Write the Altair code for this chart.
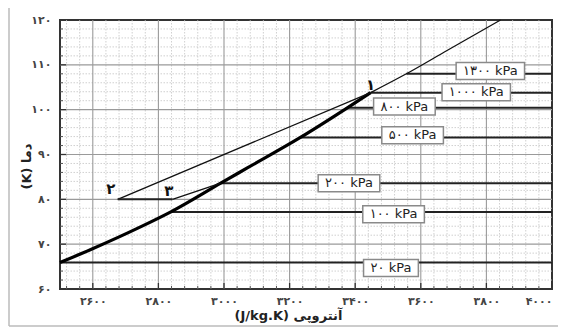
import altair as alt
import pandas as pd

# ---------------- data ----------------
# saturation-like thick curve (entropy J/kg.K, temperature K)
curve_s = [2500, 2594, 2747, 2838, 2990, 3071, 3233, 3376, 3447]
curve_T = [65.9, 68.8, 73.9, 77.2, 83.6, 87.0, 93.8, 100.4, 103.8]
# thin continuation beyond point 1
ext_s = [3447, 3556, 3680, 3843]
ext_T = [103.8, 108.0, 113.2, 120.0]
# process lines
l21_s = [2676, 3447]
l21_T = [80.0, 103.8]
l23_s = [2676, 2843]
l23_T = [80.0, 80.0]
l3c_s = [2843, 2990]
l3c_T = [80.0, 83.6]

# isobars
p_labels = ["۲۰ kPa", "۱۰۰ kPa", "۲۰۰ kPa", "۵۰۰ kPa", "۸۰۰ kPa", "۱۰۰۰ kPa", "۱۳۰۰ kPa"]
p_T = [65.9, 77.2, 83.6, 93.8, 100.4, 103.8, 108.0]
p_start = [2500, 2838, 2990, 3233, 3376, 3447, 3556]
p_end = [4000, 4000, 4000, 4000, 4000, 4000, 4000]
# label box centres
p_lab_s = [3509, 3517, 3381, 3575, 3550, 3769, 3812]
p_lab_T = [64.7, 76.7, 83.6, 94.3, 100.7, 103.9, 108.6]

# state point labels
pt_labels = ["۱", "۲", "۳"]
pt_s = [3447, 2655, 2832]
pt_T = [105.6, 82.3, 81.9]

# axes
x_ticks = [2600, 2800, 3000, 3200, 3400, 3600, 3800, 4000]
x_tick_labels = ["۲۶۰۰", "۲۸۰۰", "۳۰۰۰", "۳۲۰۰", "۳۴۰۰", "۳۶۰۰", "۳۸۰۰", "۴۰۰۰"]
y_ticks = [60, 70, 80, 90, 100, 110, 120]
y_tick_labels = ["۶۰", "۷۰", "۸۰", "۹۰", "۱۰۰", "۱۱۰", "۱۲۰"]

S_MIN, S_MAX = 2500, 4000
T_MIN, T_MAX = 60, 120
W, H = 492, 269

major_x = list(range(2600, 4000, 200))
minor_x = [v for v in range(2520, 4000, 40) if v % 200 != 0]
major_y = list(range(70, 120, 10))
minor_y = [v for v in range(62, 120, 2) if v % 10 != 0]


def label_expr(vals, labs):
    expr = "''"
    for v, l in reversed(list(zip(vals, labs))):
        expr = f"datum.value == {v} ? '{l}' : ({expr})"
    return expr


xscale = alt.Scale(domain=[S_MIN, S_MAX], nice=False, zero=False)
yscale = alt.Scale(domain=[T_MIN, T_MAX], nice=False, zero=False)
xaxis = alt.Axis(values=x_ticks, labelExpr=label_expr(x_ticks, x_tick_labels),
                 title="(J/kg.K) آنتروپی", titleX=228, titleY=26,
                 titleAnchor="start", titleAlign="center", titleBaseline="middle",
                 labelPadding=6, labelFontSize=11, labelFontWeight="bold",
                 labelColor="#444", titleFontSize=13, titleFontWeight="bold",
                 titleColor="#222")
yaxis = alt.Axis(values=y_ticks, labelExpr=label_expr(y_ticks, y_tick_labels),
                 title="(K) دما", titleX=-34, titleY=146, titleAngle=-90,
                 titleAlign="center", titleBaseline="middle",
                 labelPadding=9, labelFontSize=11, labelFontWeight="bold",
                 labelColor="#444", titleFontSize=13, titleFontWeight="bold",
                 titleColor="#222")


def X(field="s"):
    return alt.X(f"{field}:Q", scale=xscale, axis=xaxis)


def Y(field="T"):
    return alt.Y(f"{field}:Q", scale=yscale, axis=yaxis)


layers = []

# minor grid (dotted)
layers.append(alt.Chart(pd.DataFrame({"s": minor_x})).mark_rule(
    color="#c4c4c4", strokeWidth=0.8, strokeDash=[1.5, 1.5]).encode(x=X()))
layers.append(alt.Chart(pd.DataFrame({"T": minor_y})).mark_rule(
    color="#c4c4c4", strokeWidth=0.8, strokeDash=[1.5, 1.5]).encode(y=Y()))
# major grid
layers.append(alt.Chart(pd.DataFrame({"s": major_x})).mark_rule(
    color="#9a9a9a", strokeWidth=1.1).encode(x=X()))
layers.append(alt.Chart(pd.DataFrame({"T": major_y})).mark_rule(
    color="#9a9a9a", strokeWidth=1.1).encode(y=Y()))

# inward ticks
layers.append(alt.Chart(pd.DataFrame({"s": major_x})).mark_rule(
    color="#333", strokeWidth=1.3).encode(x=X(), y=alt.value(H), y2=alt.value(H - 6)))
layers.append(alt.Chart(pd.DataFrame({"s": minor_x})).mark_rule(
    color="#555", strokeWidth=1).encode(x=X(), y=alt.value(H), y2=alt.value(H - 3)))
layers.append(alt.Chart(pd.DataFrame({"T": major_y})).mark_rule(
    color="#333", strokeWidth=1.3).encode(y=Y(), x=alt.value(0), x2=alt.value(6)))
layers.append(alt.Chart(pd.DataFrame({"T": minor_y})).mark_rule(
    color="#555", strokeWidth=1).encode(y=Y(), x=alt.value(0), x2=alt.value(3)))

# isobars
iso = pd.DataFrame({"s": p_start, "s2": p_end, "T": p_T})
layers.append(alt.Chart(iso).mark_rule(color="#222", strokeWidth=2).encode(
    x=X(), x2="s2:Q", y=Y()))

# process / curves
def line_df(s, T):
    return pd.DataFrame({"s": s, "T": T, "o": list(range(len(s)))})

layers.append(alt.Chart(line_df(curve_s, curve_T)).mark_line(
    color="#000", strokeWidth=3.2, interpolate="monotone").encode(x=X(), y=Y(), order="o:Q"))
layers.append(alt.Chart(line_df(ext_s, ext_T)).mark_line(
    color="#111", strokeWidth=1.3, interpolate="monotone").encode(x=X(), y=Y(), order="o:Q"))
layers.append(alt.Chart(line_df(l21_s, l21_T)).mark_line(
    color="#111", strokeWidth=1.3).encode(x=X(), y=Y(), order="o:Q"))
layers.append(alt.Chart(line_df(l23_s, l23_T)).mark_line(
    color="#222", strokeWidth=2).encode(x=X(), y=Y(), order="o:Q"))
layers.append(alt.Chart(line_df(l3c_s, l3c_T)).mark_line(
    color="#111", strokeWidth=1.3).encode(x=X(), y=Y(), order="o:Q"))

# label boxes and texts
for lab, s, T in zip(p_labels, p_lab_s, p_lab_T):
    box_w = 6.8 * len(lab) + 14
    d = pd.DataFrame({"s": [s], "T": [T], "label": [lab]})
    layers.append(alt.Chart(d).mark_rect(
        width=box_w, height=17, fill="white", stroke="#8a8a8a", strokeWidth=1.5
    ).encode(x=X(), y=Y()))
    layers.append(alt.Chart(d).mark_text(
        font="DejaVu Sans", fontSize=13, color="#222", baseline="middle", align="center"
    ).encode(x=X(), y=Y(), text="label:N"))

# point labels
pts = pd.DataFrame({"s": pt_s, "T": pt_T, "label": pt_labels})
layers.append(alt.Chart(pts).mark_text(
    font="DejaVu Sans", fontSize=15, fontWeight="bold", color="#111",
    baseline="middle", align="center").encode(x=X(), y=Y(), text="label:N"))

# outer figure frame (left and bottom)
one = pd.DataFrame({"a": [0]})
layers.append(alt.Chart(one).mark_rule(color="#bbbbbb", strokeWidth=1.5).encode(
    x=alt.value(-51), y=alt.value(-17), y2=alt.value(306)))
layers.append(alt.Chart(one).mark_rule(color="#bbbbbb", strokeWidth=1.5).encode(
    x=alt.value(-51), x2=alt.value(498), y=alt.value(306)))

chart = alt.layer(*layers).properties(
    width=W, height=H,
    autosize=alt.AutoSizeParams(type="none"),
    padding={"left": 52, "top": 12, "right": 6, "bottom": 40},
).configure_view(
    stroke="#333", strokeWidth=2
).configure_axis(
    domain=False, ticks=False, grid=False, labelFont="DejaVu Sans", titleFont="DejaVu Sans"
)

chart.save("out.html", embed_options={"renderer": "svg", "actions": False})
